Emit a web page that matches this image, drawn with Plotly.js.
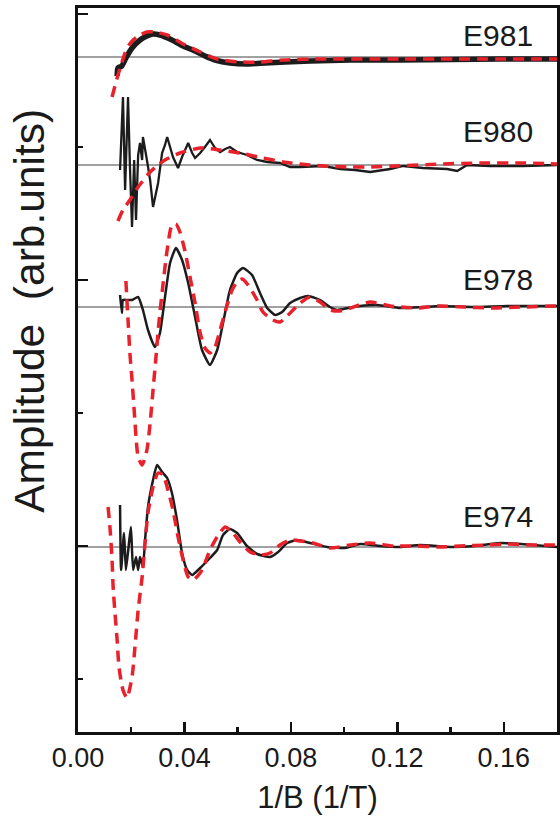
<!DOCTYPE html>
<html>
<head>
<meta charset="utf-8">
<script src="https://cdn.plot.ly/plotly-3.0.1.min.js"></script>
<style>html,body{margin:0;padding:0;background:#fff;}#chart{width:560px;height:825px;}</style>
</head>
<body>
<div id="chart"></div>
<script>
// ---- data (x in 1/T, amplitude in arb. units relative to each curve's baseline) ----
var sampleNames = ["E981", "E980", "E978", "E974"];
var baselineOffsets = [675, 567, 425, 185];

var e981X = [0.0147,0.0150,0.0165,0.0180,0.0203,0.0233,0.0259,0.0282,0.0308,0.0346,0.0395,0.0440,0.0477,0.0515,0.0571,0.0635,0.0703,0.0778,0.0872,0.1023,0.1210,0.1400,0.1586,0.1805];
var e981Y = [-19,-11,-9,-1,9,17,21,23,22,18,11,6,1,-3,-6,-7,-6,-5,-4,-3,-3,-2.5,-2,-2];
var e981FitX = [0.0128,0.0147,0.0162,0.0177,0.0192,0.0207,0.0233,0.0259,0.0289,0.0335,0.0395,0.0459,0.0523,0.0609,0.0684,0.0771,0.0910,0.1210,0.1805];
var e981FitY = [-40,-21,-8,4,12,17,22,25,25,22,13,5,-2,-5,-5,-3,-2,-2,-2];

var e980X = [0.0158,0.0169,0.0177,0.0188,0.0195,0.0203,0.0211,0.0218,0.0226,0.0233,0.0241,0.0244,0.0259,0.0271,0.0282,0.0301,0.0316,0.0327,0.0335,0.0346,0.0357,0.0376,0.0391,0.0414,0.0429,0.0440,0.0459,0.0477,0.0496,0.0515,0.0534,0.0553,0.0571,0.0598,0.0635,0.0673,0.0711,0.0759,0.0797,0.0835,0.0921,0.0985,0.1041,0.1098,0.1173,0.1222,0.1297,0.1387,0.1425,0.1462,0.1549,0.1673,0.1801];
var e980Y = [-5,68,-25,68,0,-62,5,-55,10,22,5,28,5,-15,-42,-18,12,20,28,18,8,-3,8,22,12,7,12,18,25,17,13,16,18,13,10,5,3,2,-2,-2,-1,-4,-5,-7,-4,-1,-3,-4,-6,0,-1,-1,0];
var e980FitX = [0.0150,0.0169,0.0195,0.0226,0.0271,0.0301,0.0327,0.0383,0.0459,0.0534,0.0609,0.0695,0.0771,0.0835,0.0921,0.1023,0.1098,0.1199,0.1361,0.1511,0.1662,0.1805];
var e980FitY = [-56,-45,-35,-22,-7,0,5,12,17,15,12,7,3,1,-1,-2,-2,-1,1,2,2,1];

var e978X = [0.0158,0.0165,0.0169,0.0184,0.0203,0.0226,0.0244,0.0263,0.0289,0.0308,0.0327,0.0346,0.0368,0.0391,0.0414,0.0440,0.0466,0.0496,0.0523,0.0545,0.0571,0.0598,0.0620,0.0654,0.0684,0.0711,0.0741,0.0767,0.0797,0.0835,0.0865,0.0910,0.0947,0.0974,0.1015,0.1060,0.1124,0.1211,0.1297,0.1361,0.1485,0.1613,0.1801];
var e978Y = [12,-6,7,7,7,10,-3,-23,-40,-26,10,44,59,47,24,-10,-43,-58,-43,-16,17,34,39,32,14,-1,-8,-5,4,9,11,7,0,-3,-1,1,2,-1,0,1,0,1,1];
var e978FitX = [0.0180,0.0188,0.0195,0.0203,0.0211,0.0218,0.0226,0.0241,0.0259,0.0271,0.0282,0.0293,0.0305,0.0320,0.0335,0.0353,0.0368,0.0383,0.0402,0.0421,0.0440,0.0459,0.0477,0.0496,0.0515,0.0534,0.0556,0.0579,0.0598,0.0617,0.0639,0.0673,0.0695,0.0733,0.0759,0.0786,0.0835,0.0872,0.0910,0.0947,0.0985,0.1023,0.1098,0.1173,0.1274,0.1350,0.1447,0.1549,0.1673,0.1801];
var e978FitY = [26,-13,-46,-73,-103,-130,-150,-158,-143,-116,-83,-50,-13,24,57,82,83,75,56,30,4,-26,-41,-46,-40,-23,-2,17,25,28,22,7,-5,-13,-15,-9,4,10,5,-3,-4,-1,5,1,-1,1,0,-1,0,1];

var e974X = [0.0158,0.0162,0.0173,0.0180,0.0192,0.0199,0.0207,0.0218,0.0226,0.0233,0.0244,0.0252,0.0263,0.0282,0.0297,0.0316,0.0335,0.0353,0.0372,0.0391,0.0410,0.0429,0.0459,0.0496,0.0523,0.0545,0.0571,0.0598,0.0635,0.0673,0.0722,0.0752,0.0786,0.0823,0.0872,0.0936,0.1004,0.1060,0.1135,0.1211,0.1286,0.1398,0.1492,0.1586,0.1711,0.1801];
var e974Y = [42,-23,14,-23,5,20,-23,-10,-23,-10,-20,7,40,67,82,75,69,54,27,-6,-23,-28,-21,-11,-3,12,18,14,1,-7,-10,-5,4,7,4,0,-1,3,1,0,2,0,1,4,2,0];
var e974FitX = [0.0113,0.0120,0.0128,0.0132,0.0139,0.0147,0.0154,0.0169,0.0184,0.0203,0.0214,0.0226,0.0241,0.0252,0.0263,0.0282,0.0301,0.0320,0.0338,0.0357,0.0376,0.0395,0.0414,0.0432,0.0459,0.0477,0.0496,0.0523,0.0553,0.0579,0.0609,0.0647,0.0684,0.0722,0.0759,0.0797,0.0835,0.0883,0.0947,0.1023,0.1098,0.1184,0.1274,0.1361,0.1436,0.1538,0.1613,0.1711,0.1801];
var e974FitY = [40,20,-13,-40,-66,-93,-120,-143,-151,-130,-100,-63,-30,4,34,60,74,72,57,37,10,-13,-30,-33,-26,-16,-3,10,20,15,5,-5,-8,-6,2,7,6,4,-1,2,4,1,1,0,1,2,3,2,2];

var xTickVals = [0.00, 0.04, 0.08, 0.12, 0.16];

// ---- build traces ----
var measured = [[e981X,e981Y],[e980X,e980Y],[e978X,e978Y],[e974X,e974Y]];
var fits = [[e981FitX,e981FitY],[e980FitX,e980FitY],[e978FitX,e978FitY],[e974FitX,e974FitY]];
var blackWidths = [5.5, 2.3, 2.5, 2.5];
var blackShapes = ['spline', 'linear', 'spline', 'spline'];
var labelY = [697, 601, 453, 216];

function shift(arr, off){ return arr.map(function(v){ return v + off; }); }

var traces = [];
measured.forEach(function(d, i){
  traces.push({x: d[0], y: shift(d[1], baselineOffsets[i]), mode: 'lines', type: 'scatter',
    line: {color: '#1c1c1c', width: blackWidths[i], shape: blackShapes[i], smoothing: 0.5},
    hoverinfo: 'skip', showlegend: false});
});
fits.forEach(function(d, i){
  traces.push({x: d[0], y: shift(d[1], baselineOffsets[i]), mode: 'lines', type: 'scatter',
    line: {color: '#e8212b', width: 3.5, dash: '11px,7px', shape: 'spline', smoothing: 0.6},
    hoverinfo: 'skip', showlegend: false});
});

var shapes = baselineOffsets.map(function(off){
  return {type: 'line', xref: 'paper', x0: 0, x1: 1, yref: 'y', y0: off, y1: off,
    line: {color: '#444444', width: 1.1}, layer: 'below'};
});

var annotations = sampleNames.map(function(n, i){
  return {text: n, x: 0.158, y: labelY[i], xref: 'x', yref: 'y', showarrow: false,
    xanchor: 'center', yanchor: 'middle', font: {size: 30, color: '#1a1a1a', family: 'Liberation Sans, Arial, sans-serif'}};
});
annotations.push({text: 'Amplitude  (arb.units)', xref: 'paper', yref: 'paper', x: -0.1, y: 0.582,
  textangle: -90, showarrow: false, xanchor: 'center', yanchor: 'middle',
  font: {size: 42.5, color: '#1a1a1a', family: 'Liberation Sans, Arial, sans-serif'}});

var layout = {
  width: 560, height: 825,
  margin: {l: 78, r: 3, t: 8, b: 93},
  paper_bgcolor: '#ffffff', plot_bgcolor: '#ffffff',
  font: {family: 'Liberation Sans, Arial, sans-serif', color: '#1a1a1a'},
  showlegend: false,
  xaxis: {
    range: [0, 0.18], showgrid: false, zeroline: false,
    showline: true, linecolor: '#111', linewidth: 3, mirror: true,
    ticks: 'inside', ticklen: 10, tickwidth: 2.5, tickcolor: '#111',
    tickvals: xTickVals, ticktext: xTickVals.map(function(v){ return v.toFixed(2); }),
    minor: {dtick: 0.02, tick0: 0, ticks: 'inside', ticklen: 5, tickwidth: 2.5, tickcolor: '#111'},
    tickfont: {size: 27, color: '#1a1a1a'},
    title: {text: '1/B (1/T)', font: {size: 31, color: '#1a1a1a'}, standoff: 14}
  },
  yaxis: {
    range: [0, 724], showgrid: false, zeroline: false,
    showline: true, linecolor: '#111', linewidth: 3, mirror: true,
    ticks: 'inside', ticklen: 10, tickwidth: 2.5, tickcolor: '#111',
    tick0: 186, dtick: 266, showticklabels: false,
    minor: {tick0: 186, dtick: 133, ticks: 'inside', ticklen: 5, tickwidth: 2.5, tickcolor: '#111'}
  },
  shapes: shapes,
  annotations: annotations
};

Plotly.newPlot('chart', traces, layout, {staticPlot: true, displayModeBar: false});
</script>
</body>
</html>
